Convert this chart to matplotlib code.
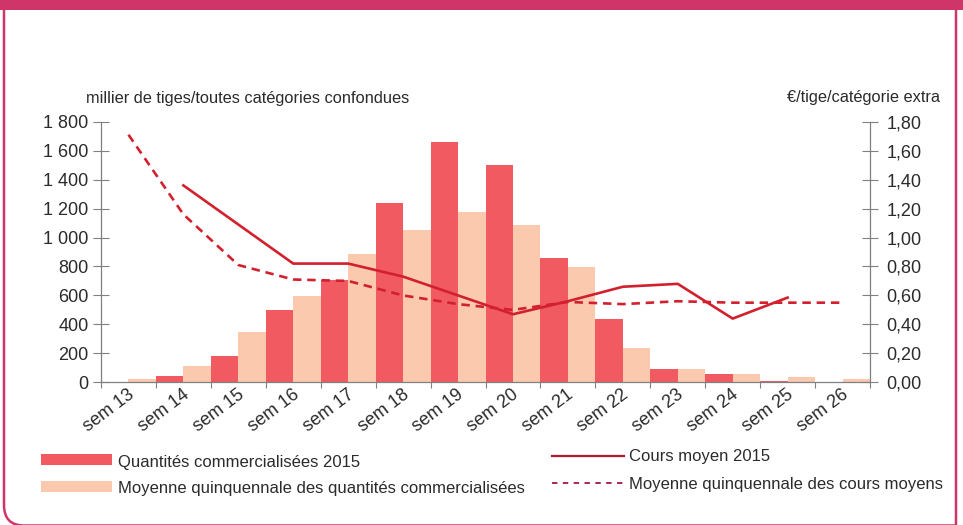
import matplotlib.pyplot as plt
import matplotlib.patches as mpatches
import matplotlib.transforms as mtransforms
from matplotlib.path import Path
from matplotlib.lines import Line2D
from matplotlib.ticker import FuncFormatter
import numpy as np

plt.rcParams['font.family'] = ['Liberation Sans', 'DejaVu Sans']

weeks = ['sem 13', 'sem 14', 'sem 15', 'sem 16', 'sem 17', 'sem 18', 'sem 19',
         'sem 20', 'sem 21', 'sem 22', 'sem 23', 'sem 24', 'sem 25', 'sem 26']
qty_2015 = [0, 45, 185, 500, 710, 1240, 1660, 1500, 860, 435, 95, 60, 8, 0]
qty_avg5 = [20, 110, 350, 595, 885, 1055, 1175, 1085, 795, 235, 95, 55, 35, 20]
price_2015 = [None, 1.36, 1.09, 0.82, 0.82, 0.73, 0.60, 0.47, 0.56, 0.66, 0.68, 0.44, 0.585, None]
price_avg5 = [1.71, 1.16, 0.81, 0.71, 0.70, 0.60, 0.54, 0.50, 0.555, 0.54, 0.56, 0.55, 0.55, 0.55]

PINK = '#D0356A'
RED_BAR = '#F15A61'
PEACH = '#FBC9AE'
RED_LINE = '#D2202E'
GREY = '#808080'
TXT = '#2b2b2b'

W, H = 963, 525
fig = plt.figure(figsize=(W / 100, H / 100), dpi=100)


def fx(px):
    return px / W


def fy(py):
    # py measured from the top of the picture
    return 1 - py / H


# frame: straight right side, rounded bottom-left corner (bottom edge mostly cut off)
frame = Path([(fx(956), fy(8)), (fx(956), fy(525.5)), (fx(24), fy(525.5)),
              (fx(4), fy(525.5)), (fx(4), fy(505)), (fx(4), fy(8))],
             [Path.MOVETO, Path.LINETO, Path.LINETO,
              Path.CURVE3, Path.CURVE3, Path.LINETO])
fig.patches.append(mpatches.PathPatch(frame, transform=fig.transFigure, fill=False,
                                      edgecolor=PINK, linewidth=1.8, figure=fig))
fig.patches.append(mpatches.Rectangle((0, fy(10)), 1, 10 / H, transform=fig.transFigure,
                                      facecolor=PINK, edgecolor='none', figure=fig))

ax = fig.add_axes([fx(101), fy(382.3), 769 / W, 260.6 / H])
ax2 = ax.twinx()
ax.set_zorder(1)
ax2.set_zorder(2)
ax.patch.set_visible(False)

x = np.arange(len(weeks))
ax.bar(x + 0.25, qty_2015, width=0.5, color=RED_BAR, linewidth=0)
ax.bar(x + 0.75, qty_avg5, width=0.5, color=PEACH, linewidth=0)

p15 = np.array([np.nan if v is None else v for v in price_2015], dtype=float)
ax2.plot(x + 0.5, p15, color=RED_LINE, linewidth=1.9)
ax2.plot(x + 0.5, price_avg5, color=RED_LINE, linewidth=1.9, linestyle=(0, (3.2, 2.2)))

ax.set_xlim(0, len(weeks))
ax.set_ylim(0, 1800)
ax2.set_ylim(0, 1.8)
ax.set_yticks(np.arange(0, 1801, 200))
ax2.set_yticks(np.arange(0, 1.81, 0.2))
ax.yaxis.set_major_formatter(FuncFormatter(lambda v, p: f'{int(v):,}'.replace(',', ' ')))
ax2.yaxis.set_major_formatter(FuncFormatter(lambda v, p: f'{v:.2f}'.replace('.', ',')))

for a in (ax, ax2):
    for s in a.spines.values():
        s.set_visible(False)
for s in (ax.spines['left'], ax.spines['bottom'], ax2.spines['right']):
    s.set_visible(True)
    s.set_color(GREY)
    s.set_linewidth(0.9)

ax.tick_params(axis='y', direction='inout', length=12, width=0.8, color=GREY,
               labelsize=13, labelcolor=TXT, pad=3)
ax2.tick_params(axis='y', direction='inout', length=12, width=0.8, color=GREY,
                labelsize=13, labelcolor=TXT, pad=6)

# week boundaries as ticks, labels in the middle of each week
ax.set_xticks(np.arange(0, len(weeks) + 1))
ax.set_xticklabels([])
ax.tick_params(axis='x', which='major', direction='out', length=4, width=0.8, color=GREY)
ax.set_xticks(x + 0.5, minor=True)
ax.set_xticklabels(weeks, minor=True, rotation=37, ha='right', va='top',
                   fontsize=13, color=TXT)
ax.tick_params(axis='x', which='minor', length=0, pad=3)
offset = mtransforms.ScaledTranslation(9 / 100, 0, fig.dpi_scale_trans)
for lab in ax.get_xticklabels(minor=True):
    lab.set_transform(lab.get_transform() + offset)

fig.text(fx(86), fy(103), 'millier de tiges/toutes catégories confondues',
         fontsize=11.8, color=TXT, va='baseline', ha='left')
fig.text(fx(940), fy(102), '€/tige/catégorie extra',
         fontsize=11.8, color=TXT, va='baseline', ha='right')

# legend
fig.patches.append(mpatches.Rectangle((fx(41), fy(465)), 71 / W, 11 / H,
                                      transform=fig.transFigure, facecolor=RED_BAR,
                                      edgecolor='none', figure=fig))
fig.patches.append(mpatches.Rectangle((fx(41), fy(492)), 71 / W, 11 / H,
                                      transform=fig.transFigure, facecolor=PEACH,
                                      edgecolor='none', figure=fig))
fig.text(fx(118), fy(462), 'Quantités commercialisées 2015',
         fontsize=12, color=TXT, va='center')
fig.text(fx(118), fy(488), 'Moyenne quinquennale des quantités commercialisées',
         fontsize=12, color=TXT, va='center')
fig.lines.append(Line2D([fx(552), fx(624)], [fy(456), fy(456)],
                        transform=fig.transFigure, color='#B4182B', linewidth=1.6))
fig.lines.append(Line2D([fx(552), fx(624)], [fy(483), fy(483)],
                        transform=fig.transFigure, color='#A3164A', linewidth=1.3,
                        linestyle=(0, (3, 3))))
fig.text(fx(629), fy(457), 'Cours moyen 2015',
         fontsize=12, color=TXT, va='center')
fig.text(fx(629), fy(484), 'Moyenne quinquennale des cours moyens',
         fontsize=12, color=TXT, va='center')

fig.savefig('out.png', dpi=100)
